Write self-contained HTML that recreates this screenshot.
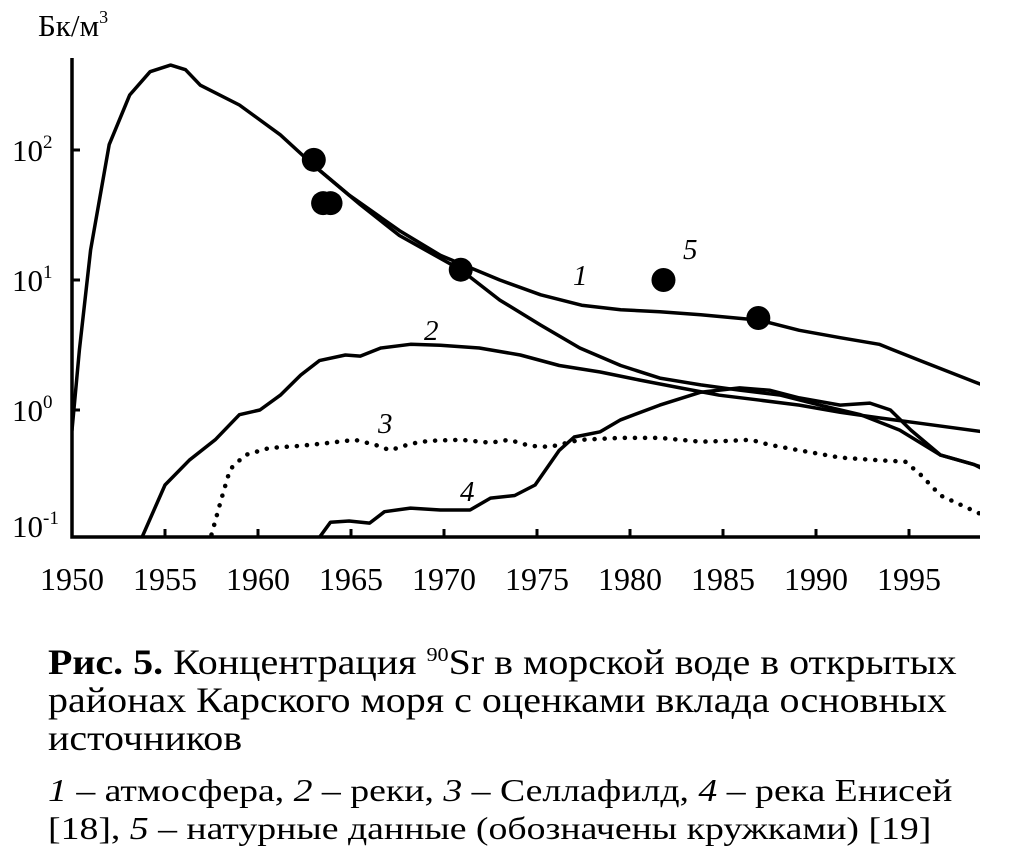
<!DOCTYPE html>
<html><head><meta charset="utf-8"><style>
body{margin:0;background:#fff;width:1010px;height:852px;overflow:hidden;font-family:"Liberation Serif",serif;}
svg{position:absolute;left:0;top:0}
.cap{position:absolute;left:48px;font-size:36px;line-height:38px;color:#000;white-space:nowrap;transform-origin:0 0;transform:scaleX(1.11)}
.leg{position:absolute;left:48px;font-size:32px;line-height:38px;color:#000;white-space:nowrap;transform-origin:0 0;transform:scaleX(1.18)}
</style></head><body>
<svg id="chart" width="1010" height="620" xmlns="http://www.w3.org/2000/svg"></svg>
<div class="cap" style="top:636px"><b>Рис. 5.</b> Концентрация <sup style="font-size:20px">90</sup>Sr в морской воде в открытых<br>районах Карского моря с оценками вклада основных<br>источников</div>
<div class="leg" style="top:771px"><i>1</i> – атмосфера, <i>2</i> – реки, <i>3</i> – Селлафилд, <i>4</i> – река Енисей<br>[18], <i>5</i> – натурные данные (обозначены кружками) [19]</div>
<script>
const xTicks=[1950,1955,1960,1965,1970,1975,1980,1985,1990,1995];
const yTicks=[2,1,0,-1];
const s1Years=[1950,1950.4,1951,1952,1953.1,1954.2,1955.3,1956.1,1956.9,1959,1961.2,1963,1964.9,1967.6,1969.8,1973,1975.2,1977.4,1979.5,1981.6,1983.8,1987,1989.1,1991.3,1993.4,1995.6,1998.5,1999];
const s1Values=[0.7,2.9,17,110,265,400,450,415,315,222,131,76,45,24,15.5,10,7.7,6.4,5.9,5.7,5.4,4.9,4.1,3.6,3.2,2.4,1.65,1.55];
const s1bYears=[1963,1965.5,1967.6,1970.9,1973,1975.2,1977.3,1979.5,1981.6,1983.8,1985.9,1988.1,1990.2,1992.4,1994.5,1996.7,1998.5,1999];
const s1bValues=[76,38,22,12,7,4.5,3,2.2,1.76,1.56,1.42,1.3,1.09,0.92,0.7,0.45,0.38,0.35];
const s2Years=[1953.7,1955,1956.3,1957.7,1959,1960.1,1961.2,1962.3,1963.3,1964.7,1965.5,1966.6,1968.2,1969.8,1971.9,1974.1,1976.2,1978.4,1980.5,1982.7,1984.8,1987,1989.1,1991.3,1993.4,1995.6,1999];
const s2Values=[0.1,0.265,0.41,0.59,0.92,1.0,1.3,1.86,2.4,2.65,2.6,3.0,3.2,3.15,3.0,2.65,2.2,1.96,1.7,1.48,1.3,1.19,1.09,0.96,0.87,0.79,0.68];
const s3Years=[1957.5,1958,1958.5,1959.3,1960.6,1962.3,1963.9,1965.2,1966.3,1967.1,1968.2,1969.2,1970.9,1972.5,1973.5,1974.6,1975.7,1977.3,1979.5,1981.6,1983.8,1985.4,1986.5,1987.5,1989.1,1991.3,1993.4,1994.8,1995.6,1996.7,1999];
const s3Values=[0.11,0.2,0.35,0.45,0.51,0.53,0.56,0.59,0.54,0.49,0.55,0.58,0.59,0.56,0.59,0.53,0.52,0.59,0.61,0.61,0.57,0.58,0.59,0.54,0.49,0.43,0.41,0.4,0.32,0.22,0.155];
const s4Years=[1963.2,1963.9,1964.9,1966,1966.8,1968.2,1969.8,1971.4,1972.5,1973.8,1974.9,1976.2,1977,1978.4,1979.5,1981.6,1983.8,1985.9,1987.5,1989.1,1991.3,1992.9,1994,1995.1,1996.7,1998.5,1999];
const s4Values=[0.1,0.137,0.14,0.135,0.165,0.176,0.17,0.17,0.21,0.22,0.265,0.49,0.62,0.68,0.84,1.09,1.37,1.48,1.42,1.24,1.09,1.13,1.0,0.7,0.45,0.38,0.36];
const ptYears=[1963,1963.5,1963.9,1970.9,1981.8,1986.9];
const ptValues=[84,39,39,12,10,5.1];

const NS='http://www.w3.org/2000/svg';
const svg=document.getElementById('chart');
const X=y=>72+(y-1950)*18.6;
const Y=v=>410-130*Math.log10(v);
function el(t,a,p){const e=document.createElementNS(NS,t);for(const k in a)e.setAttribute(k,a[k]);(p||svg).appendChild(e);return e;}
const defs=el('defs',{});
const cp=el('clipPath',{id:'cp'},defs);
el('rect',{x:72,y:40,width:908,height:496},cp);
const plot=el('g',{'clip-path':'url(#cp)'});


function line(ys,vs,name,dash){
  const d=ys.map((y,i)=>(i?'L':'M')+X(y).toFixed(1)+','+Y(vs[i]).toFixed(1)).join(' ');
  const p=el('path',{d:d,fill:'none',stroke:'#000','stroke-width':dash?4.5:3.5,'stroke-linejoin':'round','stroke-linecap':'round'},plot);
  if(dash){p.setAttribute('stroke-dasharray','0.1 10');}
  
  
}
line(s1Years,s1Values,'series-1-atmosphere');
line(s1bYears,s1bValues,'series-1-atmosphere-branch');
line(s2Years,s2Values,'series-2-rivers');
line(s3Years,s3Values,'series-3-sellafield',true);
line(s4Years,s4Values,'series-4-yenisei');
ptYears.forEach((y,i)=>{
  const c=el('circle',{cx:X(y),cy:Y(ptValues[i]),r:12,fill:'#000'});
  
  
});
const ax=el('path',{d:'M72,58 L72,537 L980,537',fill:'none',stroke:'#000','stroke-width':3.5});


xTicks.forEach(t=>{
  const tk=el('line',{x1:X(t),x2:X(t),y1:537,y2:529,stroke:'#000','stroke-width':3});
  
  
  const tx=el('text',{x:X(t),y:590,'text-anchor':'middle','font-size':32,'font-family':'Liberation Serif, serif'});
  tx.textContent=t;
  
  
});
yTicks.forEach(e=>{
  const yy=Y(Math.pow(10,e));
  if(e>-1){const tk=el('line',{x1:72,x2:80,y1:yy,y2:yy,stroke:'#000','stroke-width':3});
  
  }
  const tx=el('text',{x:12,y:Math.min(yy,526)+11,'font-size':31,'font-family':'Liberation Serif, serif'});
  tx.textContent='10';
  const sp=el('tspan',{dy:-13,'font-size':19},tx);sp.textContent=String(e);
  
  
});
const ut=el('text',{x:38,y:36,'font-size':31,'font-family':'Liberation Serif, serif'});
ut.textContent='Бк/м';
const us=el('tspan',{dy:-13,'font-size':18},ut);us.textContent='3';


[['1',573,285],['2',424,340],['3',378,433],['4',460,501],['5',683,259]].forEach(l=>{
  const t=el('text',{x:l[1],y:l[2],'font-size':29,'font-style':'italic','font-family':'Liberation Serif, serif'});
  t.textContent=l[0];
  
  
});
</script>
</body></html>
